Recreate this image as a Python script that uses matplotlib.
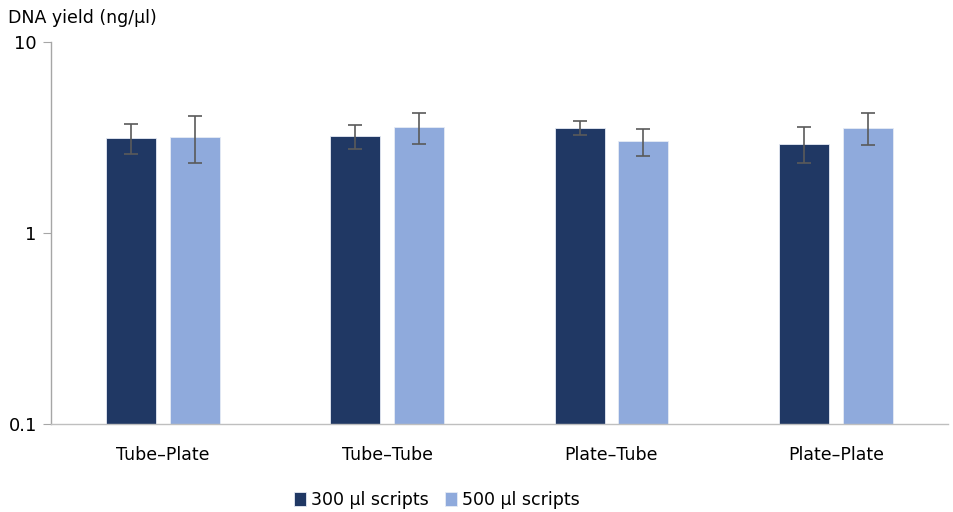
import numpy as np
import matplotlib
matplotlib.use("Agg")
import matplotlib.pyplot as plt
from matplotlib.ticker import FixedLocator, NullLocator

plt.rcParams['font.family'] = ['DejaVu Sans']

# data
categories = ['Tube–Plate', 'Tube–Tube', 'Plate–Tube', 'Plate–Plate']
series_names = ['300 µl scripts', '500 µl scripts']
yield_300 = [3.12, 3.21, 3.52, 2.92]
err_lo_300 = [2.57, 2.73, 3.25, 2.31]
err_hi_300 = [3.72, 3.68, 3.84, 3.56]
yield_500 = [3.17, 3.58, 3.01, 3.52]
err_lo_500 = [2.31, 2.90, 2.53, 2.87]
err_hi_500 = [4.10, 4.22, 3.50, 4.22]

dark = '#203864'
light = '#8FAADC'
err_col = '#5a5a5a'

fig = plt.figure(figsize=(9.54, 5.12), dpi=100)
ax = fig.add_axes([0.0531, 0.172, 0.9406, 0.7466])

x = np.arange(len(categories))
w = 0.223
off = 0.1416

for vals, lo, hi, col, sign, name in [
    (yield_300, err_lo_300, err_hi_300, dark, -1, series_names[0]),
    (yield_500, err_lo_500, err_hi_500, light, 1, series_names[1]),
]:
    vals = np.array(vals)
    yerr = [vals - np.array(lo), np.array(hi) - vals]
    ax.bar(x + sign * off, vals, width=w, color=col, edgecolor='#e6ebf5',
           linewidth=0.6, label=name, zorder=2)
    ax.errorbar(x + sign * off, vals, yerr=yerr, fmt='none', ecolor=err_col,
                elinewidth=1.2, capsize=5, capthick=1.2, zorder=3)

ax.set_yscale('log')
ax.set_ylim(0.1, 10)
ax.set_xlim(-0.5, len(categories) - 0.5)
ax.yaxis.set_major_locator(FixedLocator([0.1, 1, 10]))
ax.yaxis.set_minor_locator(NullLocator())
ax.set_yticklabels(['0.1', '1', '10'])
ax.set_xticks(x)
ax.set_xticklabels(categories)

for s in ['top', 'right']:
    ax.spines[s].set_visible(False)
ax.spines['left'].set_color('#a6a6a6')
ax.spines['bottom'].set_color('#bfbfbf')
ax.spines['left'].set_linewidth(1.0)
ax.spines['bottom'].set_linewidth(1.0)
ax.tick_params(axis='y', length=6, color='#a6a6a6', labelsize=13, pad=4)
ax.tick_params(axis='x', length=0, labelsize=12.5, pad=16)

fig.text(0.008, 0.965, 'DNA yield (ng/µl)', fontsize=12.5, ha='left', va='center')

leg = fig.legend(loc='center', bbox_to_anchor=(0.458, 0.024), ncol=2, frameon=False,
                 fontsize=12.5, handlelength=0.7, handleheight=0.9, handletextpad=0.3,
                 columnspacing=0.9)

fig.savefig('out.png', dpi=100)
